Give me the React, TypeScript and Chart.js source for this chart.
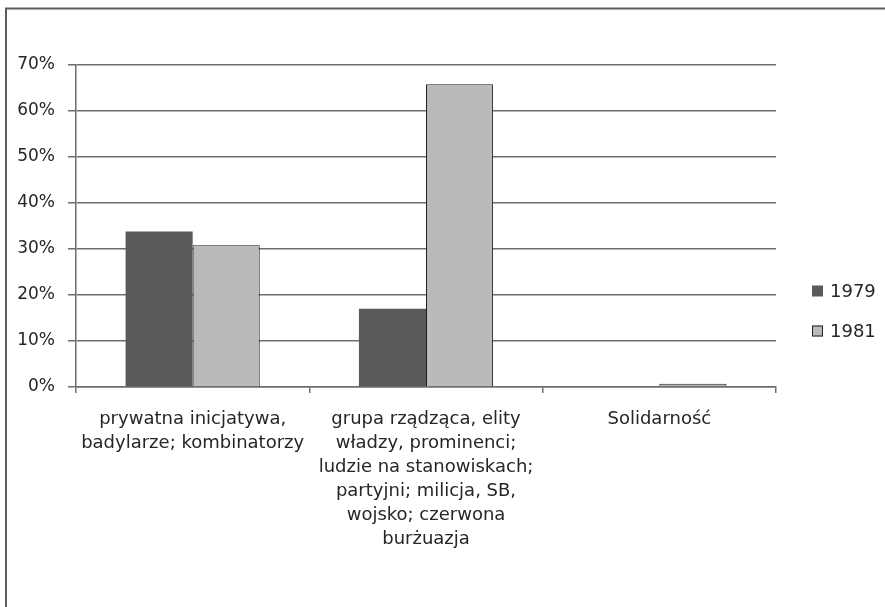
import React, { useEffect, useRef } from "react";
import { Chart, registerables } from "chart.js";

Chart.register(...registerables);

// Category labels (multi-line, as printed under the axis)
const categories: string[][] = [
  ["prywatna inicjatywa,", "badylarze; kombinatorzy"],
  [
    "grupa rządząca, elity",
    "władzy, prominenci;",
    "ludzie na stanowiskach;",
    "partyjni; milicja, SB,",
    "wojsko; czerwona",
    "burżuazja",
  ],
  ["Solidarność"],
];

const seriesNames = ["1979", "1981"];
const values1979 = [33.8, 17.0, 0];
const values1981 = [30.8, 65.8, 0.7];
const seriesColors = ["#5a5a5a", "#bababa"];

const yMin = 0;
const yMax = 70;
const yStep = 10;

const FONT = "'DejaVu Sans', 'Open Sans', sans-serif";
const TEXT = "#262626";
const LINE = "#6e6e6e";

// Outer frame: only the top and left edges are visible
const framePlugin = {
  id: "frame",
  afterDraw(chart: Chart) {
    const ctx = chart.ctx;
    ctx.save();
    ctx.strokeStyle = "#5c5c5c";
    ctx.lineWidth = 2;
    ctx.beginPath();
    ctx.moveTo(6, 607);
    ctx.lineTo(6, 8.5);
    ctx.lineTo(885, 8.5);
    ctx.stroke();
    ctx.restore();
  },
};

// Legend placed to the right of the plot
const sideLegendPlugin = {
  id: "sideLegend",
  afterDraw(chart: Chart) {
    const ctx = chart.ctx;
    const rows = [291, 331];
    ctx.save();
    ctx.font = `18px ${FONT}`;
    ctx.textBaseline = "middle";
    ctx.textAlign = "left";
    chart.data.datasets.forEach((ds, i) => {
      const y = rows[i];
      ctx.fillStyle = ds.backgroundColor as string;
      ctx.fillRect(812, y - 5.5, 11, 11);
      if ((ds.borderWidth as number) > 0) {
        ctx.strokeStyle = "#222";
        ctx.lineWidth = 1;
        ctx.strokeRect(812.5, y - 5, 10, 10);
      }
      ctx.fillStyle = TEXT;
      ctx.fillText(ds.label as string, 830, y + 1);
    });
    ctx.restore();
  },
};

export default function App() {
  const canvasRef = useRef<HTMLCanvasElement | null>(null);

  useEffect(() => {
    if (!canvasRef.current) return;
    const chart = new Chart(canvasRef.current, {
      type: "bar",
      data: {
        labels: categories,
        datasets: [
          {
            label: seriesNames[0],
            data: values1979,
            backgroundColor: seriesColors[0],
            borderWidth: 0,
          },
          {
            label: seriesNames[1],
            data: values1981,
            backgroundColor: seriesColors[1],
            borderColor: "#1e1e1e",
            borderWidth: 1,
          },
        ],
      },
      options: {
        responsive: false,
        animation: false,
        devicePixelRatio: 1,
        layout: { padding: { left: 0, top: 65, right: 109, bottom: 0 } },
        datasets: {
          bar: { categoryPercentage: 0.575, barPercentage: 1 },
        },
        plugins: {
          legend: { display: false },
          tooltip: { enabled: false },
        },
        scales: {
          x: {
            grid: {
              display: true,
              drawOnChartArea: false,
              drawTicks: true,
              tickLength: 6,
              color: LINE,
              lineWidth: 1.5,
              offset: true,
            },
            border: { color: LINE, width: 1.5 },
            ticks: {
              color: TEXT,
              font: { family: FONT, size: 18, lineHeight: 1.34 },
              maxRotation: 0,
              minRotation: 0,
              autoSkip: false,
              padding: 14,
            },
            afterFit: (s: any) => {
              s.height = 220;
            },
          },
          y: {
            min: yMin,
            max: yMax,
            ticks: {
              stepSize: yStep,
              callback: (v: any) => `${v}%`,
              color: TEXT,
              font: { family: FONT, size: 17 },
              padding: 13,
            },
            grid: { color: LINE, lineWidth: 1.5, tickLength: 8 },
            border: { color: LINE, width: 1.5 },
            afterFit: (s: any) => {
              s.width = 76;
            },
          },
        },
      },
      plugins: [framePlugin, sideLegendPlugin],
    });
    return () => chart.destroy();
  }, []);

  return (
    <div
      style={{
        position: "absolute",
        left: 0,
        top: 0,
        width: 885,
        height: 607,
        overflow: "hidden",
        background: "#ffffff",
      }}
    >
      <canvas
        ref={canvasRef}
        width={885}
        height={607}
        style={{ display: "block" }}
      />
    </div>
  );
}
